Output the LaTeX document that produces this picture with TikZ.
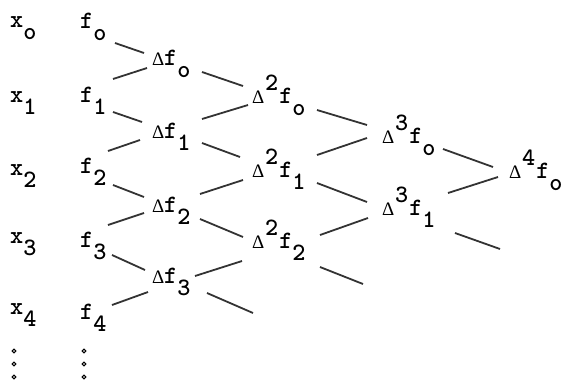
\documentclass[tikz,border=0pt]{standalone}
\usepackage{fontspec}
\newfontfamily\grkfont{Liberation Serif}
\begin{document}
\newcommand\sbs[1]{\raisebox{-12pt}{#1}}
\newcommand\sps[1]{\raisebox{13pt}{#1}}
\newcommand\dlt{\makebox[12pt][l]{\fontsize{19}{19}\grkfont\mdseries Δ}}
\newcommand\dltp[1]{\makebox[13pt][l]{\fontsize{19}{19}\grkfont\mdseries Δ}\sps{#1}\kern1pt}
\begin{tikzpicture}[x=1pt,y=-1pt,
  entry/.style={inner sep=0pt,anchor=base west,font=\fontsize{25}{28}\selectfont\ttfamily\bfseries},
  conn/.style={line width=1.8pt,black!80},
  dotc/.style={circle,draw,line width=1pt,inner sep=0pt,minimum size=3.8pt}]
\useasboundingbox (0,0) rectangle (564,381);
% x column
\node[entry] (x0) at (10,27) {x\sbs{o}};
\node[entry] (x1) at (10,102) {x\sbs{1}};
\node[entry] (x2) at (10,175) {x\sbs{2}};
\node[entry] (x3) at (10,243) {x\sbs{3}};
\node[entry] (x4) at (10,314) {x\sbs{4}};
% f column
\node[entry] (f0) at (80,28) {f\sbs{o}};
\node[entry] (f1) at (80,102) {f\sbs{1}};
\node[entry] (f2) at (80,173) {f\sbs{2}};
\node[entry] (f3) at (80,247) {f\sbs{3}};
\node[entry] (f4) at (80,319) {f\sbs{4}};
% first differences
\node[entry] (d1f0) at (152,65) {\dlt f\sbs{o}};
\node[entry] (d1f1) at (152,138) {\dlt f\sbs{1}};
\node[entry] (d1f2) at (152,212) {\dlt f\sbs{2}};
\node[entry] (d1f3) at (152,283) {\dlt f\sbs{3}};
% second differences
\node[entry] (d2f0) at (252,103) {\dltp{2}f\sbs{o}};
\node[entry] (d2f1) at (252,177) {\dltp{2}f\sbs{1}};
\node[entry] (d2f2) at (252,248) {\dltp{2}f\sbs{2}};
% third differences
\node[entry] (d3f0) at (382,143) {\dltp{3}f\sbs{o}};
\node[entry] (d3f1) at (382,215) {\dltp{3}f\sbs{1}};
% fourth difference
\node[entry] (d4f0) at (509,178) {\dltp{4}f\sbs{o}};
% dots
\node[dotc] (xd1) at (14,351) {};
\node[dotc] (xd2) at (14,364) {};
\node[dotc] (xd3) at (14,377) {};
\node[dotc] (fd1) at (84,351) {};
\node[dotc] (fd2) at (84,364) {};
\node[dotc] (fd3) at (84,377) {};
% free ends
\coordinate (e1) at (253,313);
\coordinate (e2) at (363,284);
\coordinate (e3) at (500,249);
% connectors
\draw[conn] ([shift={(35,15)}]f0.base west) -- ([shift={(-8,-12)}]d1f0.base west);
\draw[conn] ([shift={(-5,3)}]d1f0.base west) -- ([shift={(33,-23)}]f1.base west);
\draw[conn] ([shift={(33,10)}]f1.base west) -- ([shift={(-10,-16)}]d1f1.base west);
\draw[conn] ([shift={(-12,2)}]d1f1.base west) -- ([shift={(28,-22)}]f2.base west);
\draw[conn] ([shift={(33,12)}]f2.base west) -- ([shift={(-8,-15)}]d1f2.base west);
\draw[conn] ([shift={(-8,1)}]d1f2.base west) -- ([shift={(28,-22)}]f3.base west);
\draw[conn] ([shift={(32,8)}]f3.base west) -- ([shift={(-7,-13)}]d1f3.base west);
\draw[conn] ([shift={(-4,9)}]d1f3.base west) -- ([shift={(32,-14)}]f4.base west);
\draw[conn] ([shift={(50,7)}]d1f0.base west) -- ([shift={(-9,-17)}]d2f0.base west);
\draw[conn] ([shift={(-4,2)}]d2f0.base west) -- ([shift={(50,-19)}]d1f1.base west);
\draw[conn] ([shift={(50,5)}]d1f1.base west) -- ([shift={(-12,-20)}]d2f1.base west);
\draw[conn] ([shift={(-9,3)}]d2f1.base west) -- ([shift={(48,-18)}]d1f2.base west);
\draw[conn] ([shift={(48,7)}]d1f2.base west) -- ([shift={(-9,-11)}]d2f2.base west);
\draw[conn] ([shift={(-10,13)}]d2f2.base west) -- ([shift={(43,-7)}]d1f3.base west);
\draw[conn] ([shift={(55,10)}]d1f3.base west) -- (e1);
\draw[conn] ([shift={(65,7)}]d2f0.base west) -- ([shift={(-15,-18)}]d3f0.base west);
\draw[conn] ([shift={(-15,-5)}]d3f0.base west) -- ([shift={(65,-22)}]d2f1.base west);
\draw[conn] ([shift={(65,6)}]d2f1.base west) -- ([shift={(-15,-13)}]d3f1.base west);
\draw[conn] ([shift={(-14,3)}]d3f1.base west) -- ([shift={(68,-13)}]d2f2.base west);
\draw[conn] ([shift={(68,19)}]d2f2.base west) -- (e2);
\draw[conn] ([shift={(61,6)}]d3f0.base west) -- ([shift={(-16,-11)}]d4f0.base west);
\draw[conn] ([shift={(-11,-1)}]d4f0.base west) -- ([shift={(66,-22)}]d3f1.base west);
\draw[conn] ([shift={(73,18)}]d3f1.base west) -- (e3);
\end{tikzpicture}
\end{document}
